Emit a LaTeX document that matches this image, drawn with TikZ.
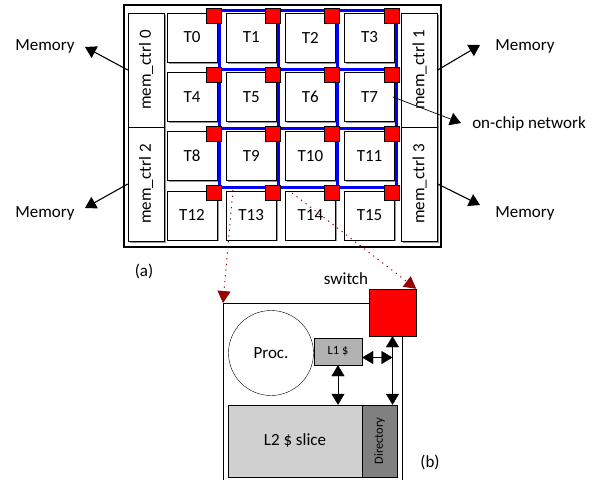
\documentclass[tikz,border=0pt]{standalone}
\usepackage{fontspec}
\setmainfont{Carlito}
\usetikzlibrary{arrows.meta,shadows,calc}
\tikzset{
  tilebox/.style={draw,fill=white,inner sep=0pt,general shadow={fill=gray!80,shadow xshift=1.5pt,shadow yshift=-1.5pt}},
  tile/.style={tilebox,minimum width=50pt,minimum height=49pt},
  mctrl/.style={tilebox,rotate=90,minimum width=114pt,minimum height=36pt},
  router/.style={draw,fill=red,inner sep=0pt,minimum size=15pt},
  noc/.style={blue,line width=3pt},
  memarrow/.style={->,line width=1.1pt},
  zoomline/.style={draw=red!60!black,line width=1pt,dash pattern=on 1.2pt off 4.5pt,-{Triangle[length=12pt,width=13pt,fill=red!60!black]}},
  small/.style={font=\fontsize{12.5}{14}\selectfont}
}
\begin{document}
\begin{tikzpicture}[x=1pt,y=-1pt,font=\fontsize{17}{20}\selectfont,>={Triangle[length=11pt,width=13pt]}]
\useasboundingbox (0,0) rectangle (598,480);
\draw[line width=1.5pt] (124,5) rectangle (441,247);
\foreach \j in {0,...,3}
  \foreach \i in {0,...,3}{
    \pgfmathtruncatemacro\n{4*\j+\i}
    \node[tile] (t\n) at (192+59.2*\i,37.5+59.3*\j) {T\n};
  }
\node[mctrl] (mc0) at (146,70) {mem\_ctrl 0};
\node[mctrl] (mc2) at (146,184) {mem\_ctrl 2};
\node[mctrl] (mc1) at (419.5,70) {mem\_ctrl 1};
\node[mctrl] (mc3) at (419.5,184) {mem\_ctrl 3};
\foreach \i in {0,...,3}
  \foreach \j in {0,...,3}
    \coordinate (x\i\j) at (219+59.3*\i,10+59*\j);
\foreach \k in {0,...,3}{
  \draw[noc] (x\k0) -- (x\k3);
  \draw[noc] (x0\k) -- (x3\k);
}
\foreach \i in {0,...,3}
  \foreach \j in {0,...,3}
    \node[router,anchor=north east] (r\i\j) at ($(x\i\j)+(2,-2)$) {};
\node (mem0) at (45,46) {Memory};
\node (mem1) at (525,46) {Memory};
\node (mem2) at (45,213) {Memory};
\node (mem3) at (525,213) {Memory};
\coordinate (m0) at (85,47);
\coordinate (m1) at (480,45);
\coordinate (m2) at (85,208);
\coordinate (m3) at (480,205);
\draw[memarrow] (mc0.north) -- (m0);
\draw[memarrow] (mc1.south) -- (m1);
\draw[memarrow] (mc2.north) -- (m2);
\draw[memarrow] (mc3.south) -- (m3);
\node (net) at (529,124) {on-chip network};
\coordinate (n0) at (393,97);
\coordinate (n1) at (461,123);
\draw[->,line width=0.7pt] (n0) -- (n1);
\node (a) at (144,271) {(a)};
\node[draw,fill=red,inner sep=0pt,minimum size=47pt] (sw) at (392.5,312.5) {};
\node (swlabel) at (346,279) {switch};
\coordinate (tl) at (223,303);
\draw (tl |- 0,490) -- (tl) -- (tl -| sw.west);
\draw (402,336) -- (402,490);
\node[draw,circle,inner sep=0pt,minimum size=85pt] (proc) at (271,353) {Proc.};
\node[draw,fill=gray!60,inner sep=0pt,minimum width=48pt,minimum height=27pt,small] (l1) at (338,351.5) {L1 \$};
\node[draw,fill=gray!37,inner sep=0pt,minimum width=134pt,minimum height=72pt] (l2) at (295,441) {L2 \$ slice};
\node[draw,fill=gray,inner sep=0pt,rotate=90,minimum width=72pt,minimum height=35pt,small] (dir) at (379.5,441) {Directory};
\coordinate (h0) at ([yshift=-6pt]l1.east);
\draw[<->] (l1.south) -- (l1.south |- l2.north);
\draw[<->] (h0) -- (h0 -| sw.south);
\draw[<->] (sw.south) -- (sw.south |- l2.north);
\coordinate (d0) at (233,190);
\coordinate (d1) at (292,193);
\draw[zoomline] (d0) -- (tl);
\draw[zoomline] (d1) -- (sw.north east);
\node (b) at (430,462) {(b)};
\end{tikzpicture}
\end{document}
